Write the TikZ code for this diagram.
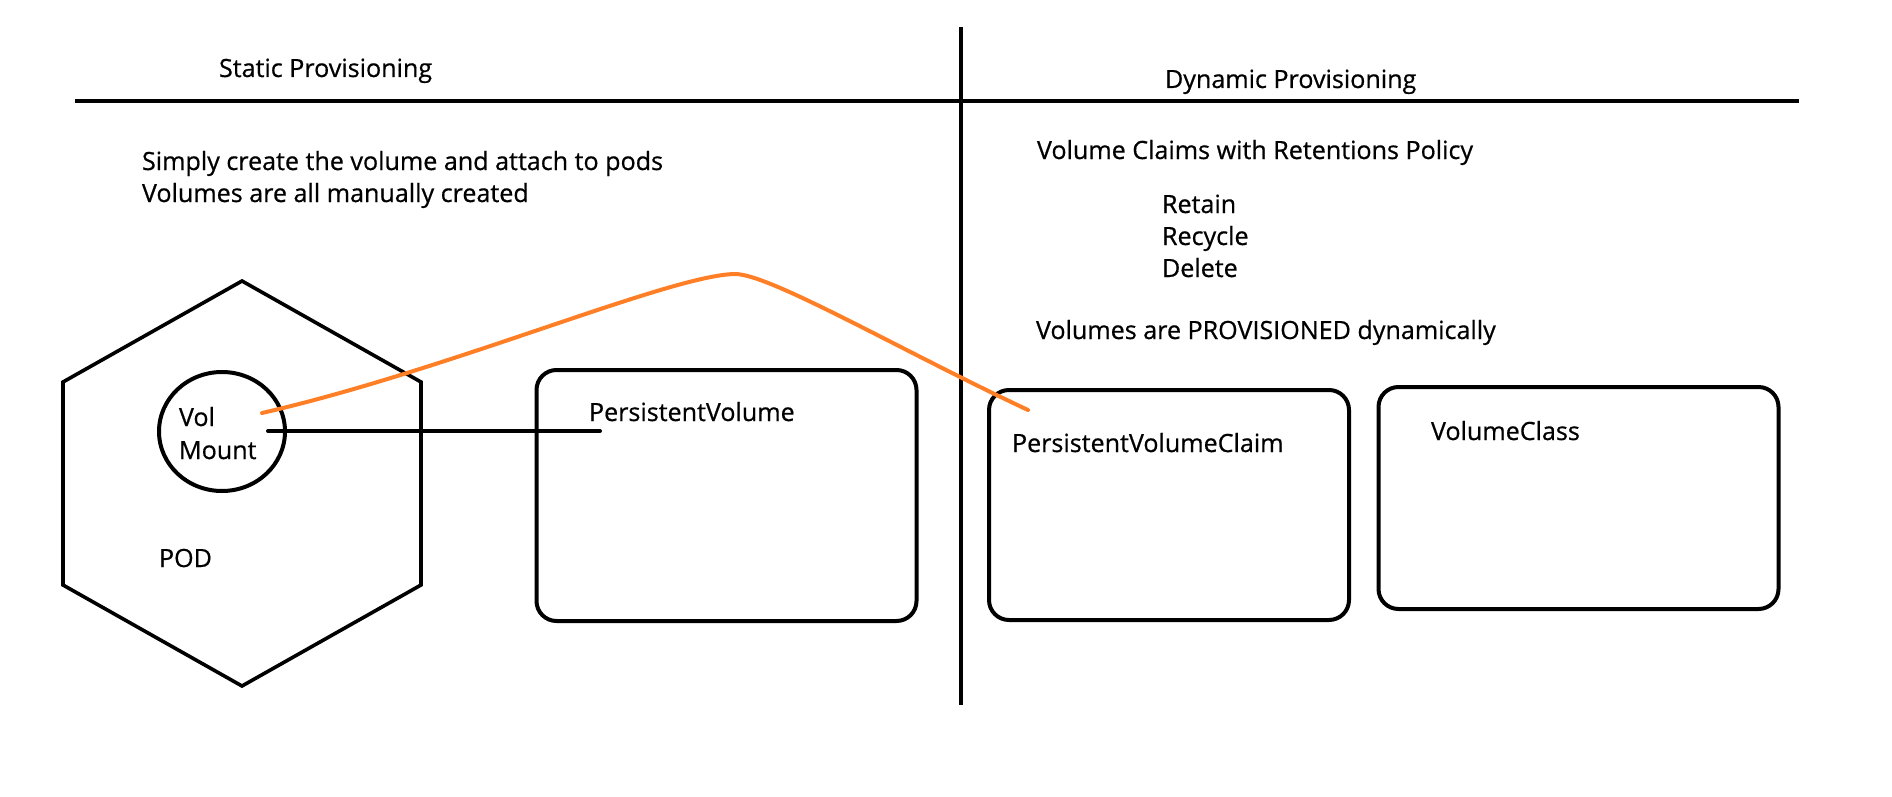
\documentclass[tikz,border=0pt]{standalone}
\usepackage{fontspec}
\setmainfont{Open Sans}
\newfontfamily\lblfont{Open Sans}[FakeBold=0.6]
\usetikzlibrary{shapes.geometric}
\definecolor{paintorange}{RGB}{255,127,39}
\begin{document}
\begin{tikzpicture}[x=1pt,y=-1pt,
  lbl/.style={anchor=base west, inner sep=0pt, outer sep=0pt, font=\lblfont\fontsize{25.1}{30}\selectfont},
  box/.style={draw, line width=4pt, rounded corners=20pt, inner sep=0pt, outer sep=0pt},
  rule/.style={line width=4pt},
  link/.style={line width=4pt, line cap=round},
  orangelink/.style={paintorange, line width=4pt, line cap=round},
]
\useasboundingbox (0,0) rectangle (1892,797);
\fill[white] (0,0) rectangle (1892,797);

% dividers
\coordinate (hL) at (75,101);
\coordinate (hR) at (1799,101);
\coordinate (vT) at (961,27);
\coordinate (vB) at (961,705);
\draw[rule] (hL) -- (hR);
\draw[rule] (vT) -- (vB);

% headings and texts
\node[lbl] (static) at (219,77) {Static Provisioning};
\node[lbl] (dynamic) at (1165,88) {Dynamic Provisioning};
\node[lbl] (s1) at (142,170) {Simply create the volume and attach to pods};
\node[lbl] (s2) at (142,202) {Volumes are all manually created};
\node[lbl] (d1) at (1037,159) {Volume Claims with Retentions Policy};
\node[lbl] (r1) at (1162,213) {Retain};
\node[lbl] (r2) at (1162,245) {Recycle};
\node[lbl] (r3) at (1162,277) {Delete};
\node[lbl] (d2) at (1036,339) {Volumes are PROVISIONED dynamically};

% pod hexagon
\coordinate (hx1) at (242,281);
\coordinate (hx2) at (421,382);
\coordinate (hx3) at (421,585);
\coordinate (hx4) at (242,686);
\coordinate (hx5) at (63,585);
\coordinate (hx6) at (63,382);
\draw[line width=3.6pt] (hx1) -- (hx2) -- (hx3) -- (hx4) -- (hx5) -- (hx6) -- cycle;
\node[lbl] (pod) at (159,567) {POD};

% volume mount
\node[ellipse, draw, line width=4pt, minimum width=126pt, minimum height=119pt, inner sep=0pt] (vm) at (222,431.5) {};
\node[lbl] (vol) at (179,426) {Vol};
\node[lbl] (mount) at (179,459) {Mount};

% boxes
\node[box, minimum width=380pt, minimum height=251pt] (pv) at (726.5,495.5) {};
\node[lbl] (pvt) at (589,421) {PersistentVolume};
\node[box, minimum width=360pt, minimum height=230pt] (pvc) at (1169,505) {};
\node[lbl] (pvct) at (1012,452) {PersistentVolumeClaim};
\node[box, minimum width=400pt, minimum height=222pt] (vc) at (1578.5,498) {};
\node[lbl] (vct) at (1431,440) {VolumeClass};

% black connector
\coordinate (c1) at (268,431);
\coordinate (c2) at (600,431);
\draw[link] (c1) -- (c2);

% orange connector
\coordinate (o1) at (262,413);
\coordinate (peak) at (735,274);
\coordinate (o2) at (1028,410);
\draw[orangelink] (o1) .. controls (450,370) and (670,275) .. (peak)
  .. controls (770,274) and (900,350) .. (o2);
\end{tikzpicture}
\end{document}
